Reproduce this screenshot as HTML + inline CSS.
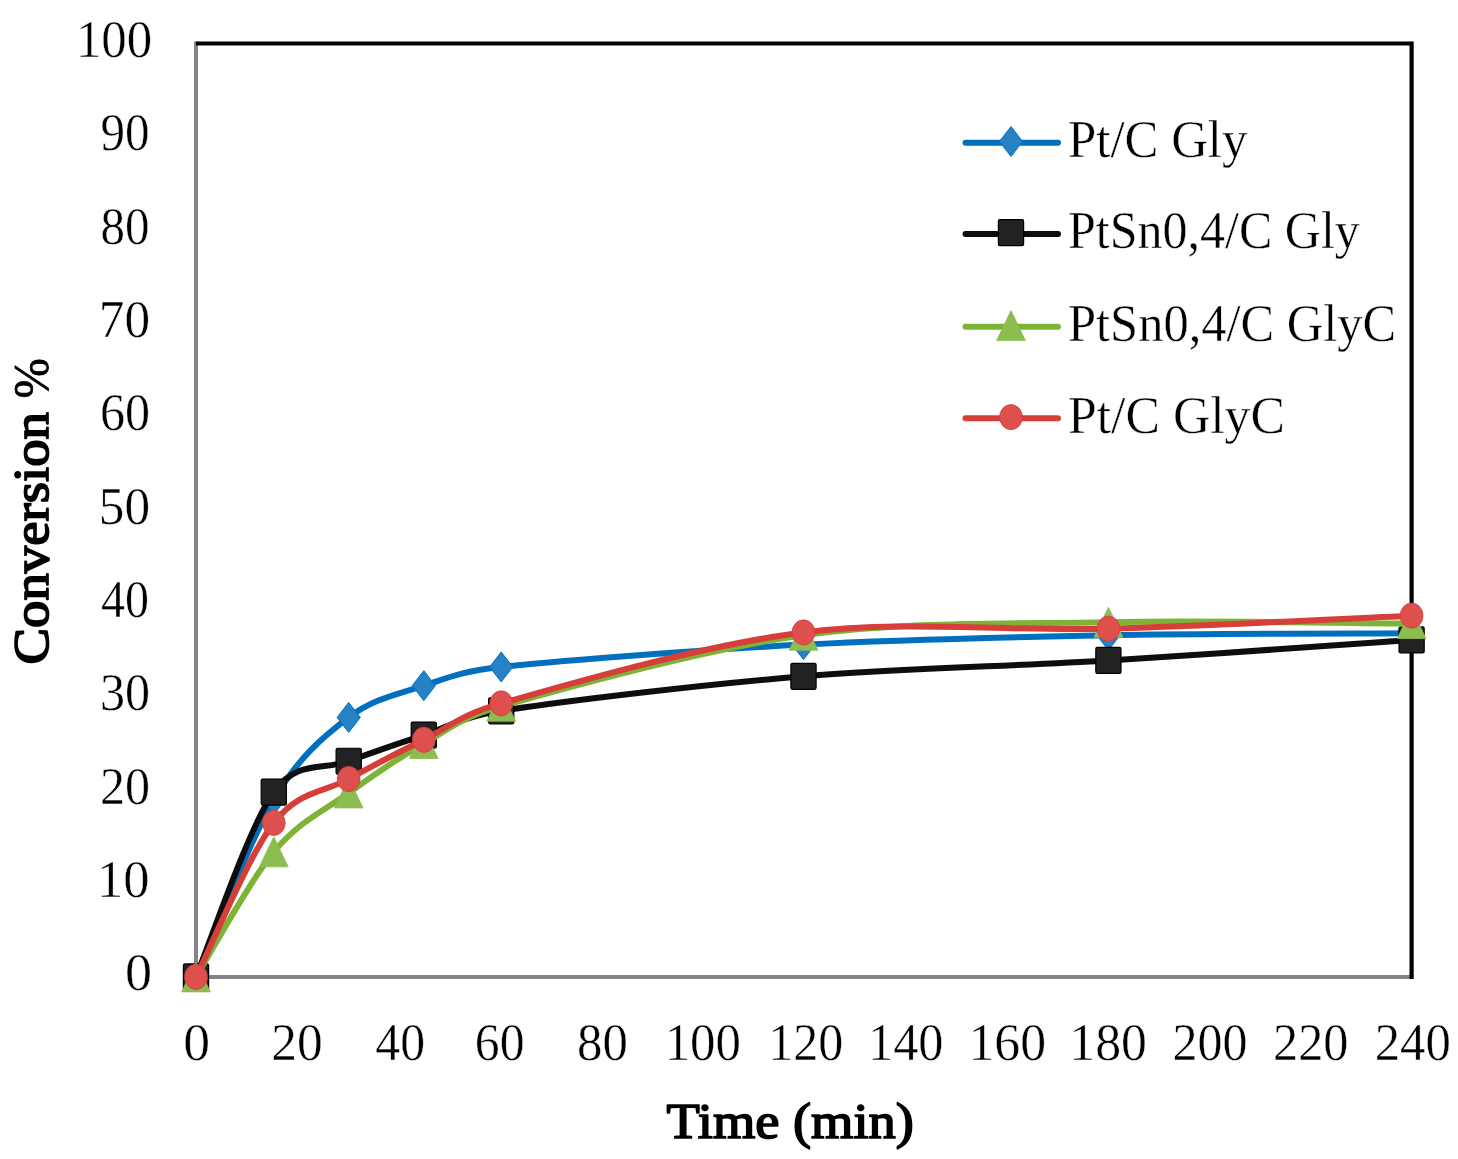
<!DOCTYPE html>
<html><head><meta charset="utf-8"><style>
html,body{margin:0;padding:0;background:#fff;}
body{width:1458px;height:1159px;overflow:hidden;}
svg{display:block;}

.t{font-family:"Liberation Serif",serif;font-size:51px;fill:#000;stroke:#fff;stroke-width:0.4px;paint-order:fill;}
.b{font-family:"Liberation Serif",serif;font-size:51px;font-weight:normal;fill:#000;stroke:#000;stroke-width:1.7px;stroke-linejoin:round;}
</style></head><body><div id="w">
<svg width="1458" height="1159" viewBox="0 0 1458 1159">
<rect width="100%" height="100%" fill="#fff"/>
<line x1="196.00" y1="41.40" x2="196.00" y2="979.00" stroke="#848484" stroke-width="4"/>
<line x1="194.00" y1="977.00" x2="1411.60" y2="977.00" stroke="#848484" stroke-width="4"/>
<path d="M196.00,43.50 H1411.60 V978.90" fill="none" stroke="#000" stroke-width="4.2" stroke-linejoin="miter"/>
<path d="M196.00,976.90 C208.97,947.34 248.35,842.79 273.80,799.53 C299.25,756.28 323.70,736.37 348.70,717.39 C373.70,698.41 398.38,694.05 423.80,685.65 C449.22,677.25 461.62,671.26 501.20,666.98 C564.48,660.13 702.30,649.86 803.50,644.57 C904.70,639.28 1007.05,637.11 1108.40,635.24 C1209.75,633.37 1361.07,633.68 1411.60,633.37" fill="none" stroke="#0070BE" stroke-width="6.0" stroke-linejoin="round" stroke-linecap="round"/>
<path d="M196.00,961.90 L207.60,976.90 L196.00,991.90 L184.40,976.90 Z" fill="#2682C4" stroke="#0070BE" stroke-width="1"/>
<path d="M273.80,784.53 L285.40,799.53 L273.80,814.53 L262.20,799.53 Z" fill="#2682C4" stroke="#0070BE" stroke-width="1"/>
<path d="M348.70,702.39 L360.30,717.39 L348.70,732.39 L337.10,717.39 Z" fill="#2682C4" stroke="#0070BE" stroke-width="1"/>
<path d="M423.80,670.65 L435.40,685.65 L423.80,700.65 L412.20,685.65 Z" fill="#2682C4" stroke="#0070BE" stroke-width="1"/>
<path d="M501.20,651.98 L512.80,666.98 L501.20,681.98 L489.60,666.98 Z" fill="#2682C4" stroke="#0070BE" stroke-width="1"/>
<path d="M803.50,629.57 L815.10,644.57 L803.50,659.57 L791.90,644.57 Z" fill="#2682C4" stroke="#0070BE" stroke-width="1"/>
<path d="M1108.40,620.24 L1120.00,635.24 L1108.40,650.24 L1096.80,635.24 Z" fill="#2682C4" stroke="#0070BE" stroke-width="1"/>
<path d="M1411.60,618.37 L1423.20,633.37 L1411.60,648.37 L1400.00,633.37 Z" fill="#2682C4" stroke="#0070BE" stroke-width="1"/>
<path d="M196.00,976.90 C208.97,946.09 248.35,828.01 273.80,792.07 C297.20,759.02 323.70,770.75 348.70,761.26 C373.70,751.77 398.38,743.52 423.80,735.12 C449.22,726.72 461.12,717.06 501.20,710.85 C564.48,701.05 702.30,684.71 803.50,676.31 C904.70,667.91 1007.05,666.51 1108.40,660.44 C1209.75,654.38 1361.07,643.33 1411.60,639.91" fill="none" stroke="#0D0D0D" stroke-width="6.0" stroke-linejoin="round" stroke-linecap="round"/>
<rect x="183.40" y="963.90" width="25.20" height="26.00" rx="1.5" fill="#222222" stroke="#000" stroke-width="1.2"/>
<rect x="261.20" y="779.07" width="25.20" height="26.00" rx="1.5" fill="#222222" stroke="#000" stroke-width="1.2"/>
<rect x="336.10" y="748.26" width="25.20" height="26.00" rx="1.5" fill="#222222" stroke="#000" stroke-width="1.2"/>
<rect x="411.20" y="722.12" width="25.20" height="26.00" rx="1.5" fill="#222222" stroke="#000" stroke-width="1.2"/>
<rect x="488.60" y="697.85" width="25.20" height="26.00" rx="1.5" fill="#222222" stroke="#000" stroke-width="1.2"/>
<rect x="790.90" y="663.31" width="25.20" height="26.00" rx="1.5" fill="#222222" stroke="#000" stroke-width="1.2"/>
<rect x="1095.80" y="647.44" width="25.20" height="26.00" rx="1.5" fill="#222222" stroke="#000" stroke-width="1.2"/>
<rect x="1399.00" y="626.91" width="25.20" height="26.00" rx="1.5" fill="#222222" stroke="#000" stroke-width="1.2"/>
<path d="M196.00,976.90 C208.97,956.05 248.35,882.46 273.80,851.81 C299.25,821.16 323.70,811.05 348.70,793.00 C373.70,774.95 398.38,757.99 423.80,743.52 C449.22,729.06 459.88,717.97 501.20,706.18 C564.48,688.14 702.30,649.24 803.50,635.24 C904.70,621.24 1007.05,624.11 1108.40,622.17 C1209.75,620.23 1361.07,623.34 1411.60,623.57" fill="none" stroke="#7DB437" stroke-width="6.0" stroke-linejoin="round" stroke-linecap="round"/>
<path d="M196.00,961.90 L210.40,991.90 L181.60,991.90 Z" fill="#8CBD51" stroke="#8CBD51" stroke-width="0.8" stroke-linejoin="round"/>
<path d="M273.80,836.81 L288.20,866.81 L259.40,866.81 Z" fill="#8CBD51" stroke="#8CBD51" stroke-width="0.8" stroke-linejoin="round"/>
<path d="M348.70,778.00 L363.10,808.00 L334.30,808.00 Z" fill="#8CBD51" stroke="#8CBD51" stroke-width="0.8" stroke-linejoin="round"/>
<path d="M423.80,728.52 L438.20,758.52 L409.40,758.52 Z" fill="#8CBD51" stroke="#8CBD51" stroke-width="0.8" stroke-linejoin="round"/>
<path d="M501.20,691.18 L515.60,721.18 L486.80,721.18 Z" fill="#8CBD51" stroke="#8CBD51" stroke-width="0.8" stroke-linejoin="round"/>
<path d="M803.50,620.24 L817.90,650.24 L789.10,650.24 Z" fill="#8CBD51" stroke="#8CBD51" stroke-width="0.8" stroke-linejoin="round"/>
<path d="M1108.40,607.17 L1122.80,637.17 L1094.00,637.17 Z" fill="#8CBD51" stroke="#8CBD51" stroke-width="0.8" stroke-linejoin="round"/>
<path d="M1411.60,608.57 L1426.00,638.57 L1397.20,638.57 Z" fill="#8CBD51" stroke="#8CBD51" stroke-width="0.8" stroke-linejoin="round"/>
<path d="M196.00,976.90 C208.97,951.23 248.35,855.86 273.80,822.87 C299.25,789.89 323.70,792.84 348.70,779.00 C373.70,765.15 398.38,752.39 423.80,739.79 C449.22,727.19 460.05,715.02 501.20,703.38 C564.48,685.49 702.30,644.89 803.50,632.44 C904.70,619.99 1007.05,631.51 1108.40,628.70 C1209.75,625.90 1361.07,617.81 1411.60,615.64" fill="none" stroke="#D63E3A" stroke-width="6.0" stroke-linejoin="round" stroke-linecap="round"/>
<ellipse cx="196.00" cy="976.90" rx="11.4" ry="12.6" fill="#DD504D" stroke="#D63E3A" stroke-width="0.8"/>
<ellipse cx="273.80" cy="822.87" rx="11.4" ry="12.6" fill="#DD504D" stroke="#D63E3A" stroke-width="0.8"/>
<ellipse cx="348.70" cy="779.00" rx="11.4" ry="12.6" fill="#DD504D" stroke="#D63E3A" stroke-width="0.8"/>
<ellipse cx="423.80" cy="739.79" rx="11.4" ry="12.6" fill="#DD504D" stroke="#D63E3A" stroke-width="0.8"/>
<ellipse cx="501.20" cy="703.38" rx="11.4" ry="12.6" fill="#DD504D" stroke="#D63E3A" stroke-width="0.8"/>
<ellipse cx="803.50" cy="632.44" rx="11.4" ry="12.6" fill="#DD504D" stroke="#D63E3A" stroke-width="0.8"/>
<ellipse cx="1108.40" cy="628.70" rx="11.4" ry="12.6" fill="#DD504D" stroke="#D63E3A" stroke-width="0.8"/>
<ellipse cx="1411.60" cy="615.64" rx="11.4" ry="12.6" fill="#DD504D" stroke="#D63E3A" stroke-width="0.8"/>
<text transform="translate(152.00,990.40) scale(1.061,1.045)" text-anchor="end" class="t">0</text>
<text transform="translate(149.55,897.05) scale(1.029,1.045)" text-anchor="end" class="t">10</text>
<text transform="translate(150.05,803.70) scale(0.983,1.045)" text-anchor="end" class="t">20</text>
<text transform="translate(150.05,710.35) scale(0.983,1.045)" text-anchor="end" class="t">30</text>
<text transform="translate(149.05,617.00) scale(0.941,1.045)" text-anchor="end" class="t">40</text>
<text transform="translate(150.05,523.65) scale(1.006,1.045)" text-anchor="end" class="t">50</text>
<text transform="translate(150.05,430.30) scale(0.983,1.045)" text-anchor="end" class="t">60</text>
<text transform="translate(150.05,336.95) scale(1.005,1.045)" text-anchor="end" class="t">70</text>
<text transform="translate(149.55,243.60) scale(0.961,1.045)" text-anchor="end" class="t">80</text>
<text transform="translate(149.55,150.25) scale(0.962,1.045)" text-anchor="end" class="t">90</text>
<text transform="translate(152.15,56.90) scale(0.997,1.045)" text-anchor="end" class="t">100</text>
<text transform="translate(196.70,1060.00) scale(1.052,1.045)" text-anchor="middle" class="t">0</text>
<text transform="translate(297.09,1060.00) scale(1.009,1.045)" text-anchor="middle" class="t">20</text>
<text transform="translate(400.18,1060.00) scale(0.976,1.045)" text-anchor="middle" class="t">40</text>
<text transform="translate(499.68,1060.00) scale(0.974,1.045)" text-anchor="middle" class="t">60</text>
<text transform="translate(602.47,1060.00) scale(0.996,1.045)" text-anchor="middle" class="t">80</text>
<text transform="translate(702.76,1060.00) scale(0.997,1.045)" text-anchor="middle" class="t">100</text>
<text transform="translate(805.75,1060.00) scale(0.983,1.045)" text-anchor="middle" class="t">120</text>
<text transform="translate(905.74,1060.00) scale(0.986,1.045)" text-anchor="middle" class="t">140</text>
<text transform="translate(1007.23,1060.00) scale(1.015,1.045)" text-anchor="middle" class="t">160</text>
<text transform="translate(1108.13,1060.00) scale(1.015,1.045)" text-anchor="middle" class="t">180</text>
<text transform="translate(1210.02,1060.00) scale(0.981,1.045)" text-anchor="middle" class="t">200</text>
<text transform="translate(1310.71,1060.00) scale(0.986,1.045)" text-anchor="middle" class="t">220</text>
<text transform="translate(1412.70,1060.00) scale(0.995,1.045)" text-anchor="middle" class="t">240</text>
<text transform="translate(790.20,1137.90) scale(1.067,1.000)" text-anchor="middle" class="b">Time (min)</text>
<text transform="translate(47.6,664.5) rotate(-90) scale(1.074,1.01)" text-anchor="start" class="b">Conversion</text>
<text transform="translate(47.6,398.5) rotate(-90) scale(0.95,1.01)" text-anchor="start" class="t" style="stroke:#000;stroke-width:0.8px">%</text>
<line x1="965.5" y1="142.70" x2="1058" y2="142.70" stroke="#0070BE" stroke-width="6.0" stroke-linecap="round"/>
<path d="M1011.00,126.50 L1022.60,141.50 L1011.00,156.50 L999.40,141.50 Z" fill="#2682C4" stroke="#0070BE" stroke-width="1"/>
<text transform="translate(1068.00,157.20) scale(0.997,1.045)" text-anchor="start" class="t">Pt/C Gly</text>
<line x1="965.5" y1="233.90" x2="1058" y2="233.90" stroke="#0D0D0D" stroke-width="6.0" stroke-linecap="round"/>
<rect x="998.40" y="219.70" width="25.20" height="26.00" rx="1.5" fill="#222222" stroke="#000" stroke-width="1.2"/>
<text transform="translate(1068.00,248.40) scale(0.981,1.045)" text-anchor="start" class="t">PtSn0,4/C Gly</text>
<line x1="965.5" y1="326.80" x2="1058" y2="326.80" stroke="#7DB437" stroke-width="6.0" stroke-linecap="round"/>
<path d="M1011.00,310.60 L1025.40,340.60 L996.60,340.60 Z" fill="#8CBD51" stroke="#8CBD51" stroke-width="0.8" stroke-linejoin="round"/>
<text transform="translate(1068.00,341.30) scale(0.990,1.045)" text-anchor="start" class="t">PtSn0,4/C GlyC</text>
<line x1="965.5" y1="418.30" x2="1058" y2="418.30" stroke="#D63E3A" stroke-width="6.0" stroke-linecap="round"/>
<ellipse cx="1011.00" cy="417.10" rx="11.4" ry="12.6" fill="#DD504D" stroke="#D63E3A" stroke-width="0.8"/>
<text transform="translate(1068.00,432.80) scale(1.014,1.045)" text-anchor="start" class="t">Pt/C GlyC</text>
</svg>
</div></body></html>
